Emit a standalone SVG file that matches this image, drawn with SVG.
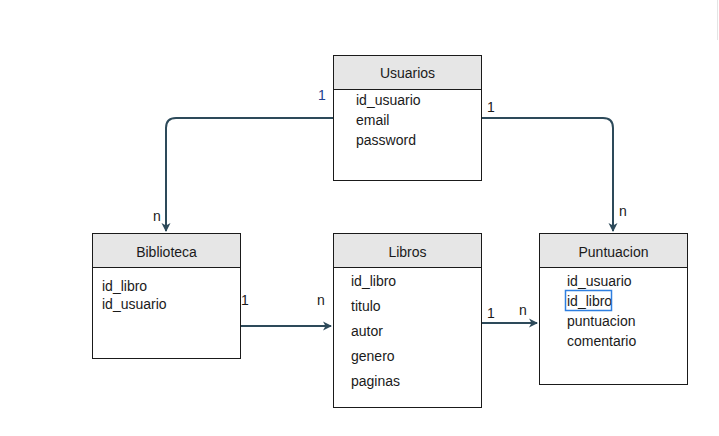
<svg xmlns="http://www.w3.org/2000/svg" width="719" height="436" viewBox="0 0 719 436">
<style>
.box{fill:#fff;stroke:#1a1a1a;stroke-width:1}
.hd{fill:#e6e6e6;stroke:#1a1a1a;stroke-width:1}
.t{font-family:"Liberation Sans",Arial,sans-serif;font-size:14px;fill:#1a1a1a}
.c{text-anchor:middle}
.ln{fill:none;stroke:#2d4a5a;stroke-width:2}
.lb{font-family:"Liberation Sans",Arial,sans-serif;font-size:14px;fill:#1a1a1a}
</style>
<defs>
<marker id="ah" markerWidth="10" markerHeight="10" refX="8" refY="5" orient="auto" markerUnits="userSpaceOnUse">
<path d="M0,0.5 L9,5 L0,9.5 L2.5,5 Z" fill="#2d4a5a"/>
</marker>
</defs>
<line x1="717.5" y1="0" x2="717.5" y2="40" stroke="#e4e4e4" stroke-width="1"/>
<g id="connectors">
<path class="ln" d="M333,118 H176 Q166,118 166,128 V231" marker-end="url(#ah)"/>
<path class="ln" d="M481,118 H603 Q613,118 613,128 V231" marker-end="url(#ah)"/>
<path class="ln" d="M240,326 H331" marker-end="url(#ah)"/>
<path class="ln" d="M481,323 H537" marker-end="url(#ah)"/>
<text class="lb" x="318" y="100" style="fill:#23408e">1</text>
<text class="lb" x="153" y="221">n</text>
<text class="lb" x="487" y="112">1</text>
<text class="lb" x="619" y="216">n</text>
<text class="lb" x="241" y="305">1</text>
<text class="lb" x="317" y="305">n</text>
<text class="lb" x="487" y="318">1</text>
<text class="lb" x="519" y="315">n</text>
</g>
<g id="usuarios">
<rect class="box" x="333.5" y="55.5" width="148" height="125"/>
<rect class="hd" x="333.5" y="55.5" width="148" height="34"/>
<text class="t c" x="407.5" y="78">Usuarios</text>
<text class="t" x="356" y="105">id_usuario</text>
<text class="t" x="356" y="125">email</text>
<text class="t" x="356" y="145">password</text>
</g>
<g id="biblioteca">
<rect class="box" x="92.5" y="233.5" width="148" height="125"/>
<rect class="hd" x="92.5" y="233.5" width="148" height="34"/>
<text class="t c" x="166.5" y="257">Biblioteca</text>
<text class="t" x="102" y="291">id_libro</text>
<text class="t" x="102" y="309">id_usuario</text>
</g>
<g id="libros">
<rect class="box" x="333.5" y="233.5" width="148" height="174"/>
<rect class="hd" x="333.5" y="233.5" width="148" height="34"/>
<text class="t c" x="407.5" y="257">Libros</text>
<text class="t" x="351" y="286">id_libro</text>
<text class="t" x="351" y="311">titulo</text>
<text class="t" x="351" y="336">autor</text>
<text class="t" x="351" y="361">genero</text>
<text class="t" x="351" y="386">paginas</text>
</g>
<g id="puntuacion">
<rect class="box" x="539.5" y="233.5" width="148" height="151"/>
<rect class="hd" x="539.5" y="233.5" width="148" height="34"/>
<text class="t c" x="613.5" y="257">Puntuacion</text>
<text class="t" x="567" y="286">id_usuario</text>
<text class="t" x="567" y="306">id_libro</text>
<rect x="565.5" y="290.5" width="46" height="20" fill="none" stroke="#2f7fe0" stroke-width="1.5"/>
<text class="t" x="567" y="326">puntuacion</text>
<text class="t" x="567" y="346">comentario</text>
</g>
</svg>
